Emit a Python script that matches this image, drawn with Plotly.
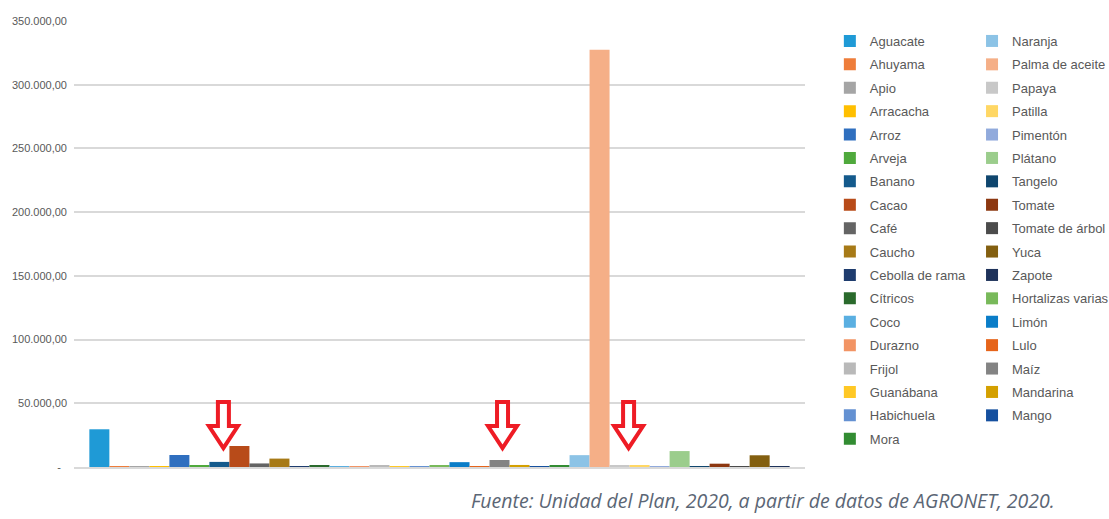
import plotly.graph_objects as go

# Cultivos (orden alfabético de las barras) y su valor
CROPS = [
    "Aguacate", "Ahuyama", "Apio", "Arracacha", "Arroz", "Arveja", "Banano",
    "Cacao", "Café", "Caucho", "Cebolla de rama", "Cítricos", "Coco",
    "Durazno", "Frijol", "Guanábana", "Habichuela", "Hortalizas varias",
    "Limón", "Lulo", "Maíz", "Mandarina", "Mango", "Mora", "Naranja",
    "Palma de aceite", "Papaya", "Patilla", "Pimentón", "Plátano", "Tangelo",
    "Tomate", "Tomate de árbol", "Yuca", "Zapote",
]
VALUES = [
    29600, 600, 700, 600, 9400, 900, 4000,
    16500, 2800, 6600, 700, 800, 700,
    600, 800, 700, 700, 800,
    3800, 700, 5500, 1600, 600, 1000, 9300,
    327500, 1200, 900, 700, 12500, 700,
    2600, 600, 9200, 700,
]
COLORS = [
    "#1f9ad6", "#ee7d3a", "#a5a5a5", "#ffbf00", "#2f6fbf", "#4fa93c", "#145a8c",
    "#b84b19", "#646464", "#a77a17", "#1e3c6e", "#2a6a2c", "#5aafe1",
    "#f29464", "#b9b9b9", "#ffc825", "#6491d2", "#78b95a",
    "#0a7dc8", "#e6641a", "#838383", "#d4a000", "#15509f", "#328c32", "#8cc3e6",
    "#f5af87", "#c8c8c8", "#ffd764", "#91aadc", "#9bcd8c", "#0f466e",
    "#8c3710", "#4b4b4b", "#835f10", "#1e325a",
]

# Distribución de la leyenda en dos columnas
LEGEND_LEFT = [
    "Aguacate", "Ahuyama", "Apio", "Arracacha", "Arroz", "Arveja", "Banano",
    "Cacao", "Café", "Caucho", "Cebolla de rama", "Cítricos", "Coco",
    "Durazno", "Frijol", "Guanábana", "Habichuela", "Mora",
]
LEGEND_RIGHT = [
    "Naranja", "Palma de aceite", "Papaya", "Patilla", "Pimentón", "Plátano",
    "Tangelo", "Tomate", "Tomate de árbol", "Yuca", "Zapote",
    "Hortalizas varias", "Limón", "Lulo", "Maíz", "Mandarina", "Mango",
]

# Eje Y
TICK_VALUES = [0, 50000, 100000, 150000, 200000, 250000, 300000, 350000]
TICK_LABELS = ["-\u00a0\u00a0", "50.000,00", "100.000,00", "150.000,00",
               "200.000,00", "250.000,00", "300.000,00", "350.000,00"]

# Cultivos señalados con flecha (desplazamiento horizontal en píxeles)
HIGHLIGHTED = ["Cacao", "Maíz", "Papaya"]
ARROW_SHIFT_PX = [-16, 3, 9]

SOURCE = "Fuente: Unidad del Plan, 2020, a partir de datos de AGRONET, 2020."

BARGAP = 0.042
TEXT = "#595959"
FONT = "Arial"

fig = go.Figure()
for crop, val, col in zip(CROPS, VALUES, COLORS):
    if crop in LEGEND_LEFT:
        leg, rank = "legend", LEGEND_LEFT.index(crop)
    else:
        leg, rank = "legend2", LEGEND_RIGHT.index(crop)
    fig.add_trace(go.Bar(
        x=[0], y=[val], name=crop,
        marker=dict(color=col, line=dict(width=0)),
        legend=leg, legendgroup=crop, legendrank=rank,
    ))


def arrow_path(dx):
    """Flecha hueca apuntando hacia abajo, en píxeles respecto al eje."""
    pts = [(-5.5, 65), (5.5, 65), (5.5, 41), (14.5, 41), (0, 19),
           (-14.5, 41), (-5.5, 41)]
    return "M " + " L ".join("%g,%g" % (x + dx, y) for x, y in pts) + " Z"


n = len(CROPS)
slot = (1 - BARGAP) / n
for crop, shift in zip(HIGHLIGHTED, ARROW_SHIFT_PX):
    idx = CROPS.index(crop)
    cx = -0.5 + BARGAP / 2 + (idx + 0.5) * slot
    fig.add_shape(
        type="path", xref="x", yref="y",
        xsizemode="pixel", ysizemode="pixel",
        xanchor=cx, yanchor=0,
        path=arrow_path(shift),
        line=dict(color="#ee1c25", width=4),
        fillcolor="white", layer="above",
    )

legend_common = dict(
    font=dict(family=FONT, size=13, color=TEXT),
    bgcolor="rgba(0,0,0,0)", borderwidth=0,
    tracegroupgap=3.5, xanchor="left", yanchor="top",
    itemclick=False, itemdoubleclick=False,
)

fig.update_layout(
    width=1109, height=519,
    margin=dict(l=74, r=304, t=21, b=52, autoexpand=False),
    paper_bgcolor="white", plot_bgcolor="white",
    separators=",.",
    barmode="group", bargap=BARGAP, bargroupgap=0,
    showlegend=True,
    legend=dict(x=1.034, y=0.9888, **legend_common),
    legend2=dict(x=1.2285, y=0.9888, **legend_common),
    xaxis=dict(range=[-0.5, 0.5], showticklabels=False, showgrid=False,
               zeroline=False, showline=True, linecolor="#d9d9d9",
               linewidth=1.5, fixedrange=True),
    yaxis=dict(range=[0, 350000], tickvals=TICK_VALUES, ticktext=TICK_LABELS,
               showgrid=True, gridcolor="#d9d9d9", gridwidth=1.5,
               zeroline=False, showline=False, ticks="",
               ticklabelstandoff=6,
               tickfont=dict(family=FONT, size=11, color=TEXT),
               fixedrange=True),
    annotations=[dict(
        text=SOURCE, xref="paper", yref="paper",
        x=(1057 - 74) / 731, y=-0.074, xanchor="right", yanchor="middle",
        showarrow=False,
        font=dict(family="Open Sans", size=19.5, color="#5b6675",
                  style="italic"),
    )],
)

fig.write_html("out.html")
